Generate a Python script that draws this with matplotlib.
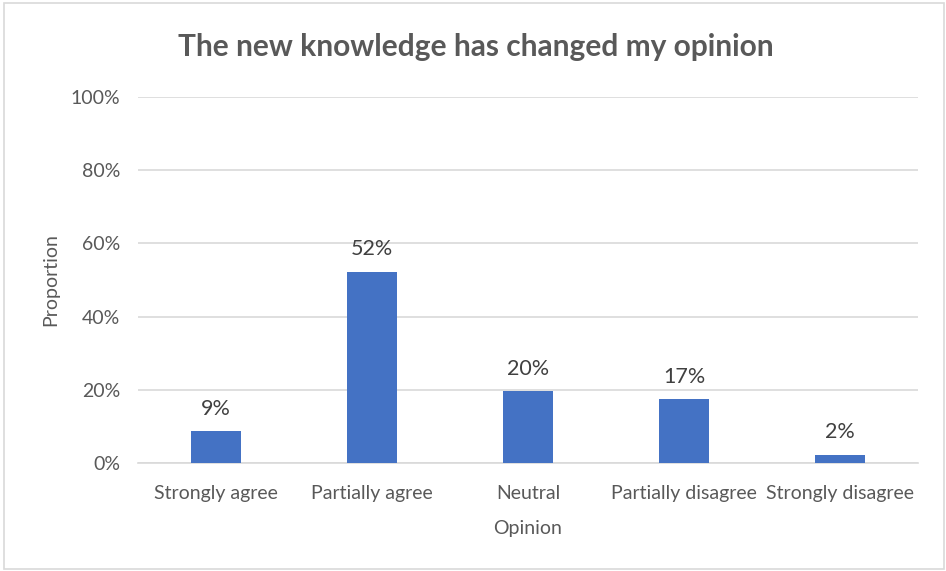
import matplotlib
matplotlib.use("Agg")
import matplotlib.pyplot as plt
from matplotlib.patches import Rectangle
from matplotlib.ticker import FuncFormatter

categories = ["Strongly agree", "Partially agree", "Neutral", "Partially disagree", "Strongly disagree"]
values = [8.7, 52.2, 19.6, 17.4, 2.2]
labels = ["9%", "52%", "20%", "17%", "2%"]
yticks = [0, 20, 40, 60, 80, 100]

plt.rcParams['font.family'] = ['Lato', 'DejaVu Sans']

fig = plt.figure(figsize=(9.46, 5.71), dpi=100)
fig.patches.append(Rectangle((4/946, 2/571), 940/946, 566/571, transform=fig.transFigure,
                             fill=False, edgecolor="#D9D9D9", linewidth=1.2))
ax = fig.add_axes([138/946, 1 - 463/571, 780/946, 366/571])

x = list(range(len(categories)))
ax.bar(x, values, width=0.315, color="#4472C4", zorder=3)
for xi, v, lab in zip(x, values, labels):
    ax.annotate(lab, (xi, v), xytext=(0, 9), textcoords="offset points", ha="center", va="bottom",
                fontsize=15.5, color="#404040")

ax.set_xlim(-0.5, len(categories) - 0.5)
ax.set_ylim(0, 100)
ax.set_yticks(yticks)
ax.yaxis.set_major_formatter(FuncFormatter(lambda v, p: f"{v:.0f}%"))
ax.grid(axis="y", color="#D9D9D9", linewidth=1.2, zorder=0)
for s in ["top", "right", "left"]:
    ax.spines[s].set_visible(False)
ax.spines["bottom"].set_color("#D9D9D9")
ax.spines["bottom"].set_linewidth(1.2)
ax.tick_params(axis="both", length=0, labelsize=14, labelcolor="#595959")
ax.tick_params(axis="y", pad=13)
ax.tick_params(axis="x", pad=16)
ax.set_xticks(x)
ax.set_xticklabels(categories)

ax.set_ylabel("Proportion", fontsize=14, color="#595959", labelpad=8)
ax.set_xlabel("Opinion", fontsize=14, color="#595959", labelpad=13)
fig.text(476/946, 1 - 47/571, "The new knowledge has changed my opinion", ha="center", va="center",
         fontsize=21.5, fontweight="bold", color="#595959")

fig.savefig("out.png", dpi=100)
